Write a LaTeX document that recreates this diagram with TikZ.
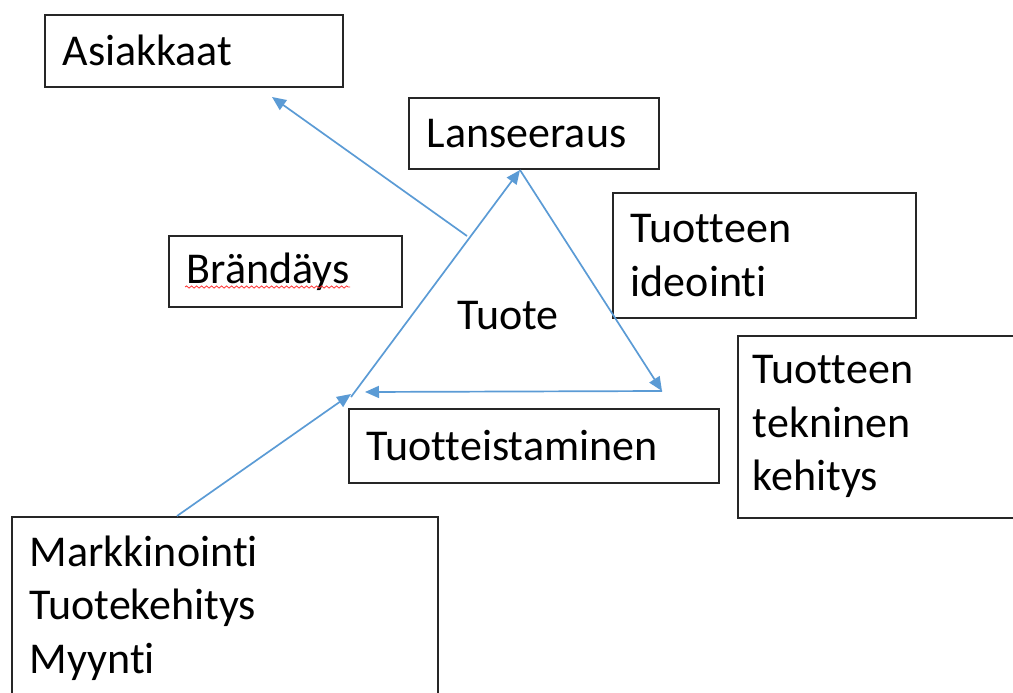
\documentclass[tikz,border=0pt]{standalone}
\usepackage{fontspec}
\setmainfont{Carlito}[Ligatures=NoCommon]
\usetikzlibrary{arrows.meta,decorations.pathmorphing}
\definecolor{flow}{HTML}{5B9BD5}
\begin{document}
\begin{tikzpicture}[x=1pt,y=-1pt,
  font=\fontsize{44}{53.5}\selectfont,
  box/.style={draw=black!85, line width=1.6pt, anchor=north west, align=left,
    inner xsep=18pt, inner ysep=0pt},
  flowarrow/.style={draw=flow, line width=1.7pt,
    -{Triangle[length=14pt,width=12pt]}}]
  \useasboundingbox (0,0) rectangle (1013,693);
  \clip (0,0) rectangle (1013,693);

  % boxes
  \node[box, text width=262pt, minimum height=72pt] (asiakkaat) at (44,14) {Asiakkaat};
  \node[box, text width=214pt, minimum height=71pt] (lanseeraus) at (408,97) {Lanseeraus};
  \node[box, text width=267pt, minimum height=125pt] (ideointi) at (612,192) {Tuotteen\\ideointi};
  \node[box, inner xsep=15pt, text width=250pt, minimum height=182pt] (tekninen) at (737,335) {Tuotteen\\tekninen\\kehitys};
  \node[box, text width=334pt, minimum height=74pt] (tuotteistaminen) at (348,408) {Tuotteistaminen};
  \node[box, text width=197pt, minimum height=71pt] (brandays) at (168,235) {Brändäys};
  \node[box, text width=390pt, minimum height=182pt] (markkinointi) at (11,516) {Markkinointi\\Tuotekehitys\\Myynti};
  \node (tuote) at (508,316) {Tuote};

  % spelling squiggle under the brand word
  \draw[red!80, line width=0.8pt, decorate,
    decoration={snake, segment length=5pt, amplitude=1.1pt}]
    (185,287) -- (350,287);

  % triangle corners and arrow ends
  \coordinate (top) at (520,170);
  \coordinate (right) at (662,391);
  \coordinate (leftend) at (365,392);
  \coordinate (leftbase) at (351,397);
  \coordinate (branch) at (467,236);
  \coordinate (custtip) at (272,97);
  \coordinate (mkstart) at (177,516);
  \coordinate (mktip) at (351,394);

  % product cycle
  \draw[flowarrow] (leftbase) -- (top);
  \draw[flowarrow] (top) -- (right);
  \draw[flowarrow] (right) -- (leftend);

  % links outward and inward
  \draw[flowarrow] (branch) -- (custtip);
  \draw[flowarrow] (mkstart) -- (mktip);
\end{tikzpicture}
\end{document}
